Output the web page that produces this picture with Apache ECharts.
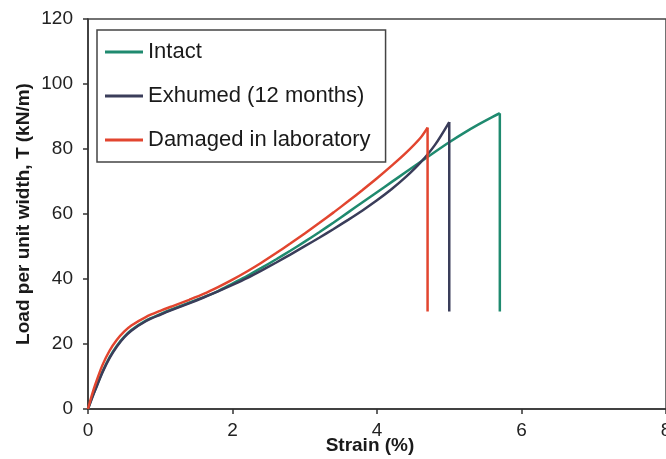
<!DOCTYPE html>
<html>
<head>
<meta charset="utf-8">
<script src="https://cdn.jsdelivr.net/npm/echarts@6/dist/echarts.min.js"></script>
<style>
    html, body {margin: 0; padding: 0; background: #fff;}
    #chart {width: 666px; height: 459px;}
</style>
</head>
<body>
<div id="chart"></div>
<script>
// strain (%) and load (kN/m); last point = bottom of the failure drop
var intactStrain = [0, 0.05, 0.1, 0.2, 0.3, 0.4, 0.5, 0.6, 0.8, 1.0, 1.2, 1.4, 1.6, 1.8, 2.0, 2.2, 2.4, 2.6, 2.8, 3.0, 3.2, 3.4, 3.6, 3.8, 4.0, 4.2, 4.4, 4.6, 4.8, 5.0, 5.2, 5.4, 5.6, 5.7, 5.7];
var intactLoad = [0, 3.2, 6, 11.5, 16, 19.5, 22.2, 24.3, 27.2, 29.2, 31, 32.7, 34.4, 36.3, 38.6, 40.9, 43.4, 46, 48.7, 51.5, 54.4, 57.4, 60.5, 63.6, 66.7, 69.8, 72.9, 76, 79.1, 82.1, 84.9, 87.5, 89.9, 91, 30];

var exhumedStrain = [0, 0.05, 0.1, 0.2, 0.3, 0.4, 0.5, 0.6, 0.8, 1.0, 1.2, 1.4, 1.6, 1.8, 2.0, 2.2, 2.4, 2.6, 2.8, 3.0, 3.2, 3.4, 3.6, 3.8, 4.0, 4.2, 4.4, 4.6, 4.8, 5.0, 5.0];
var exhumedLoad = [0, 3.0, 5.8, 11.2, 15.7, 19.2, 22, 24.1, 27, 29, 30.8, 32.5, 34.3, 36.2, 38.2, 40.3, 42.6, 45, 47.5, 50.1, 52.7, 55.4, 58.2, 61.1, 64.2, 67.6, 71.4, 75.8, 81.2, 88.3, 30];

var damagedStrain = [0, 0.05, 0.1, 0.2, 0.3, 0.4, 0.5, 0.6, 0.8, 1.0, 1.2, 1.4, 1.6, 1.8, 2.0, 2.2, 2.4, 2.6, 2.8, 3.0, 3.2, 3.4, 3.6, 3.8, 4.0, 4.2, 4.4, 4.6, 4.7, 4.7];
var damagedLoad = [0, 4.0, 7.5, 13.5, 18, 21.3, 23.8, 25.7, 28.3, 30.2, 31.9, 33.6, 35.4, 37.5, 39.8, 42.3, 45, 47.9, 50.9, 54, 57.2, 60.5, 63.9, 67.4, 71, 74.8, 78.8, 83.4, 86.6, 30];

var seriesNames = ['Intact', 'Exhumed (12 months)', 'Damaged in laboratory'];
var seriesColors = ['#1f8a6f', '#3a3d5a', '#e2452f'];

function pairs(xs, ys) {
    var out = [];
    for (var i = 0; i < xs.length; i++) {
        out.push([xs[i], ys[i]]);
    }
    return out;
}

var allData = [
    pairs(intactStrain, intactLoad),
    pairs(exhumedStrain, exhumedLoad),
    pairs(damagedStrain, damagedLoad)
];

var font = '"Liberation Sans", Arial, sans-serif';

var series = [];
allData.forEach(function (d, i) {
    var curve = d.slice(0, d.length - 1);
    var drop = d.slice(d.length - 2);
    // smooth loading curve
    series.push({
        name: seriesNames[i],
        type: 'line',
        symbol: 'none',
        smooth: 0.3,
        lineStyle: {width: 2.5, color: seriesColors[i]},
        data: curve
    });
    // vertical drop at failure
    series.push({
        name: seriesNames[i],
        type: 'line',
        symbol: 'none',
        lineStyle: {width: 2.5, color: seriesColors[i]},
        data: drop
    });
});

var option = {
    animation: false,
    color: seriesColors,
    grid: {
        left: 88,
        top: 19,
        right: 0,
        bottom: 50,
        outerBoundsMode: 'none',
        show: true,
        borderColor: '#444',
        borderWidth: 1.5
    },
    legend: {
        orient: 'vertical',
        left: 97,
        top: 30,
        padding: [11, 15, 11, 8],
        itemGap: 22,
        itemWidth: 38,
        itemHeight: 3,
        icon: 'rect',
        borderColor: '#444',
        borderWidth: 1.5,
        backgroundColor: '#fff',
        textStyle: {fontFamily: font, fontSize: 22, color: '#1a1a1a'},
        data: seriesNames
    },
    xAxis: {
        type: 'value',
        min: 0,
        max: 8,
        interval: 2,
        name: 'Strain (%)',
        nameLocation: 'middle',
        nameGap: 27,
        nameMoveOverlap: false,
        nameTextStyle: {fontFamily: font, fontSize: 19, fontWeight: 'bold', color: '#1a1a1a', padding: [0, 14, 0, 0]},
        axisLine: {show: true, lineStyle: {color: '#333', width: 1.5}},
        axisTick: {show: true, length: 5, lineStyle: {color: '#333', width: 1.5}},
        axisLabel: {fontFamily: font, fontSize: 19, color: '#222', margin: 12},
        splitLine: {show: false}
    },
    yAxis: {
        type: 'value',
        min: 0,
        max: 120,
        interval: 20,
        name: 'Load per unit width, T (kN/m)',
        nameLocation: 'middle',
        nameGap: 55,
        nameMoveOverlap: false,
        nameTextStyle: {fontFamily: font, fontSize: 19, fontWeight: 'bold', color: '#1a1a1a'},
        axisLine: {show: true, lineStyle: {color: '#333', width: 1.5}},
        axisTick: {show: true, length: 5, lineStyle: {color: '#333', width: 1.5}},
        axisLabel: {fontFamily: font, fontSize: 19, color: '#222', margin: 15},
        splitLine: {show: false}
    },
    series: series
};

var chart = echarts.init(document.getElementById('chart'));
chart.setOption(option);
</script>
</body>
</html>
